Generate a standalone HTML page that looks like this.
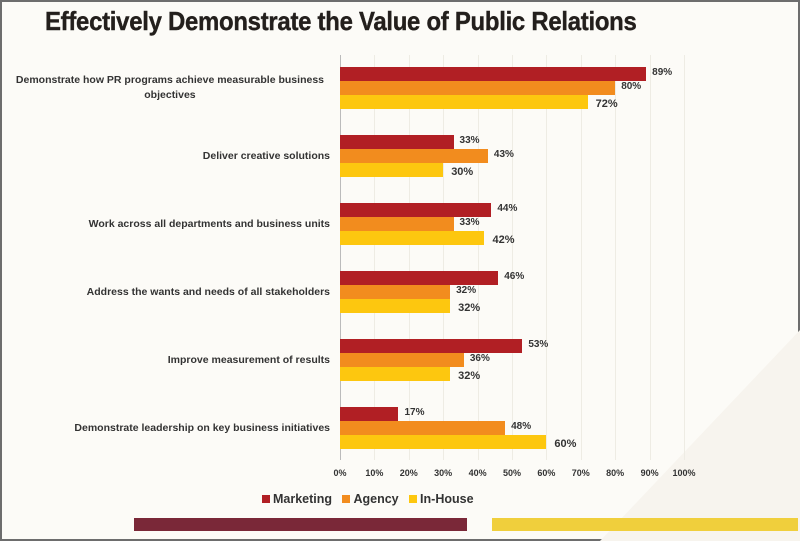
<!DOCTYPE html>
<html><head><meta charset="utf-8"><style>
body{margin:0;width:800px;height:541px;overflow:hidden;background:#fdfcf8;font-family:"Liberation Sans",sans-serif}
#f{position:absolute;left:0;top:0;width:796px;height:537px;border:2px solid #6d6d6d;background:#fcfbf7}
.t{position:absolute;left:45px;top:6px;font-size:26px;font-weight:bold;color:#231f1c;letter-spacing:-0.3px;transform:scaleX(0.92);transform-origin:left;-webkit-text-stroke:0.4px #231f1c}
.l{position:absolute;font-size:10.5px;font-weight:bold;color:#333;text-align:right;white-space:nowrap;line-height:15px}
.b{position:absolute;left:340px;height:13.5px}
.v{position:absolute;font-size:10px;font-weight:bold;color:#333}
.g{position:absolute;top:55px;height:405px;width:1px;background:#eeece4}
.x{position:absolute;top:468px;font-size:9px;font-weight:bold;color:#333;width:40px;text-align:center}
</style></head><body><div id="f"></div>
<svg style="position:absolute;left:0;top:0" width="800" height="541"><polygon points="600,541 800,330 800,541" fill="#f7f4ee"/></svg>
<div class="t">Effectively Demonstrate the Value of Public Relations</div>
<div id="c"></div>
<script>
var cats=["Demonstrate  how PR programs achieve measurable business<br>objectives","Deliver creative solutions","Work across all departments and business units","Address  the wants and needs of all stakeholders","Improve measurement of results","Demonstrate  leadership on key business initiatives"];
var d=[[89,80,72],[33,43,30],[44,33,42],[46,32,32],[53,36,32],[17,48,60]];
var col=["#b11f24","#f28c1e","#fdc70f"];var h="";
for(var i=1;i<=10;i++)h+='<div class="g" style="left:'+(340+i*34.4)+'px"></div>';
h+='<div style="position:absolute;left:340px;top:55px;width:1px;height:405px;background:#bbb"></div>';
for(var i=0;i<=10;i++)h+='<div class="x" style="left:'+(340+i*34.4-20)+'px">'+i*10+'%</div>';
for(var g=0;g<6;g++){var y=67+g*68;
h+='<div class="l" style="top:'+(y+21-(g==0?15:7.5))+'px;'+(g==0?'text-align:center;right:476px':'right:470px')+'">'+cats[g]+'</div>';
for(var k=0;k<3;k++){var w=d[g][k]*3.44;
h+='<div class="b" style="top:'+(y+k*14)+'px;width:'+w+'px;background:'+col[k]+'"></div>';
h+='<div class="v" style="left:'+(340+w+(k==2?8:6))+'px;top:'+(y+k*14+(k==2?3:0))+'px;'+(k==2?'font-size:11px':'')+'">'+d[g][k]+'%</div>';}}
h+='<div style="position:absolute;top:492px;left:262px;font-size:12.5px;font-weight:bold;color:#333">';
var n=["Marketing","Agency","In-House"];
for(var k=0;k<3;k++)h+='<span style="display:inline-block;width:8px;height:8px;background:'+col[k]+';margin-right:3px"></span>'+n[k]+'&nbsp;&nbsp;&nbsp;';
h+='</div>';
h+='<div style="position:absolute;left:134px;top:518px;width:333px;height:13px;background:#7a2838"></div>';
h+='<div style="position:absolute;left:492px;top:518px;width:306px;height:13px;background:#f0cf3c"></div>';
document.getElementById("c").innerHTML=h;
</script></body></html>
